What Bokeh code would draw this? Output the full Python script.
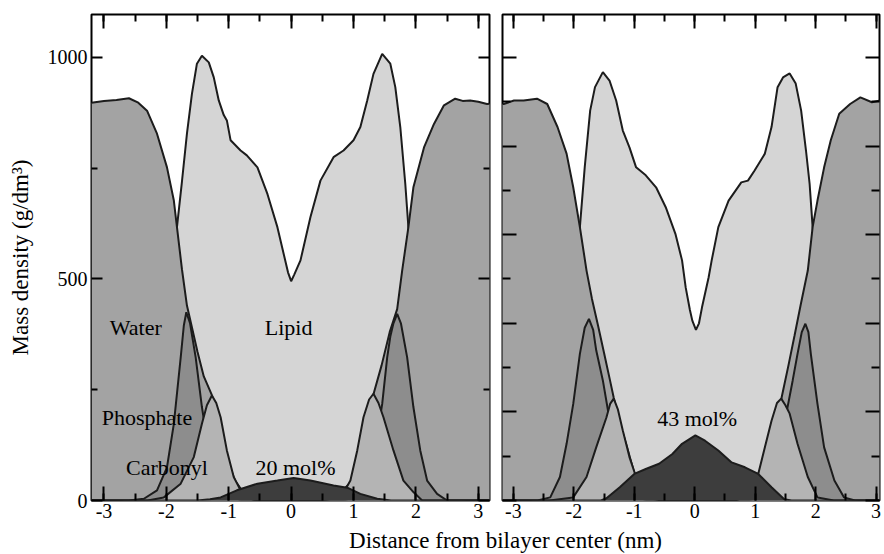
from bokeh.plotting import figure
from bokeh.models import Range1d, FixedTicker, LinearAxis, Label, CustomLabelingPolicy
from bokeh.layouts import row, column
from bokeh.embed import file_html
from bokeh.resources import INLINE

FONT = "Liberation Serif"

# ---------------- ticks ----------------
x_major = [-3, -2, -1, 0, 1, 2, 3]
x_minor = [-3, -2.5, -2, -1.5, -1, -0.5, 0, 0.5, 1, 1.5, 2, 2.5, 3]
x_tick_text = ["-3", "-2", "-1", "0", "1", "2", "3"]
y_major_a = [0, 500, 1000]
y_minor_a = [250, 750]
y_tick_text_a = ["0", "500", "1000"]
y_major_b = [0, 200, 400, 600, 800, 1000]
y_minor_b = [100, 300, 500, 700, 900]

# ---------------- 20 mol% panel ----------------
water20_x = [-3.2, -3.0, -2.8, -2.6, -2.45, -2.31, -2.15, -1.99, -1.88, -1.83, -1.75, -1.67, -1.5, -1.4, -1.27,
             -1.15, -1.03, -0.9, -0.75, -0.55, 0.55, 0.75, 0.95, 1.08, 1.2, 1.32, 1.45, 1.58, 1.70, 1.78, 1.88,
             1.96, 2.13, 2.29, 2.45, 2.63, 2.75, 2.87, 3.0, 3.14, 3.2]
water20_y = [898, 902, 904, 908, 898, 880, 828, 752, 677, 617, 522, 440, 335, 280, 238,
             160, 95, 45, 15, 0, 0, 12, 40, 100, 170, 240, 305, 380, 432, 519, 617,
             707, 797, 850, 892, 907, 902, 903, 900, 895, 896]

lipid20_x = [-3.2, -2.7, -2.4, -2.2, -2.0, -1.83, -1.75, -1.67, -1.59, -1.51, -1.43, -1.32, -1.24, -1.16, -1.08,
             -1.03, -0.97, -0.81, -0.71, -0.54, -0.38, -0.22, -0.12, -0.05, 0.0, 0.05, 0.15, 0.31, 0.47, 0.68,
             0.84, 1.0, 1.11, 1.22, 1.32, 1.46, 1.59, 1.67, 1.75, 1.83, 1.88, 1.95, 2.1, 2.3, 2.5, 2.8, 3.2]
lipid20_y = [0, 0, 30, 150, 380, 617, 720, 828, 918, 986, 1004, 989, 955, 903, 870,
             858, 813, 790, 779, 752, 692, 617, 557, 515, 495, 510, 542, 640, 722, 775,
             790, 813, 843, 903, 963, 1008, 986, 933, 843, 715, 617, 520, 300, 80, 10, 0, 0]

phos20_x = [-3.2, -2.6, -2.36, -2.15, -1.99, -1.88, -1.77, -1.72, -1.68, -1.62, -1.53, -1.43, -1.32, -1.19, -1.03,
            -0.8, 0.85, 1.0, 1.2, 1.35, 1.46, 1.54, 1.59, 1.64, 1.70, 1.76, 1.86, 1.96, 2.07, 2.18, 2.34, 2.5, 3.2]
phos20_y = [0, 0, 4, 23, 75, 173, 323, 395, 425, 400, 323, 211, 113, 53, 15,
            0, 0, 8, 45, 120, 218, 323, 370, 400, 421, 400, 323, 211, 113, 45, 15, 0, 0]

carb20_x = [-3.2, -2.3, -2.04, -1.77, -1.56, -1.43, -1.35, -1.27, -1.2, -1.13, -1.03, -0.92, -0.81, -0.6,
            0.5, 0.7, 0.85, 0.95, 1.06, 1.16, 1.25, 1.32, 1.4, 1.48, 1.64, 1.80, 1.96, 2.1, 3.2]
carb20_y = [0, 0, 7, 38, 98, 173, 215, 237, 220, 188, 113, 53, 23, 0,
            0, 5, 20, 45, 113, 188, 228, 241, 220, 188, 113, 45, 19, 0, 0]

chol20_x = [-3.2, -1.5, -1.3, -1.13, -0.87, -0.54, -0.22, 0.04, 0.31, 0.68, 0.9, 1.11, 1.38, 1.6, 3.2]
chol20_y = [0, 0, 3, 7, 23, 38, 45, 51, 45, 34, 29, 15, 4, 0, 0]

# ---------------- 43 mol% panel ----------------
water43_x = [-3.2, -3.16, -2.99, -2.83, -2.61, -2.44, -2.27, -2.12, -2.01, -1.90, -1.79, -1.70, -1.60, -1.50,
             -1.40, -1.34, -1.25, -1.13, -1.0, -0.85, -0.65, 0.7, 0.9, 1.08, 1.24, 1.33, 1.43, 1.55, 1.65, 1.75,
             1.87, 1.95, 2.03, 2.14, 2.25, 2.39, 2.57, 2.74, 2.93, 3.07]
water43_y = [895, 895, 903, 903, 907, 895, 843, 783, 707, 617, 519, 455, 395, 333,
             270, 232, 180, 125, 62, 20, 0, 0, 25, 68, 128, 175, 228, 305, 372, 440,
             519, 617, 677, 752, 813, 873, 895, 910, 899, 903]

lipid43_x = [-3.2, -2.7, -2.45, -2.25, -2.05, -1.90, -1.82, -1.73, -1.65, -1.52, -1.41, -1.30, -1.19, -1.08,
             -0.97, -0.81, -0.64, -0.48, -0.32, -0.21, -0.15, -0.08, -0.04, 0.02, 0.07, 0.12, 0.23, 0.28, 0.39,
             0.56, 0.77, 0.88, 0.99, 1.16, 1.27, 1.37, 1.46, 1.57, 1.67, 1.76, 1.84, 1.90, 1.95, 2.05, 2.25,
             2.45, 2.7, 3.1]
lipid43_y = [0, 0, 30, 160, 430, 617, 752, 880, 933, 967, 948, 903, 835, 797,
             752, 734, 707, 662, 602, 542, 481, 430, 406, 385, 400, 436, 504, 542, 617,
             677, 718, 722, 745, 783, 843, 933, 955, 964, 941, 880, 790, 715, 617, 430, 160,
             30, 0, 0]

phos43_x = [-3.2, -2.6, -2.39, -2.23, -2.12, -2.01, -1.90, -1.82, -1.75, -1.68, -1.63, -1.52, -1.40, -1.28,
            -1.15, -1.0, -0.8, 0.9, 1.1, 1.25, 1.4, 1.52, 1.62, 1.70, 1.77, 1.83, 1.88, 1.92, 2.03, 2.14,
            2.31, 2.47, 2.65, 3.1]
phos43_y = [0, 0, 7, 53, 128, 218, 331, 390, 410, 385, 339, 271, 175, 95,
            40, 12, 0, 0, 12, 45, 110, 200, 271, 331, 380, 399, 380, 331, 218, 120,
            45, 7, 0, 0]

carb43_x = [-3.2, -2.4, -2.01, -1.79, -1.63, -1.46, -1.40, -1.34, -1.27, -1.19, -1.08, -0.97, -0.81, -0.6,
            0.7, 0.9, 1.05, 1.16, 1.27, 1.36, 1.43, 1.50, 1.57, 1.70, 1.87, 2.03, 2.3, 3.1]
carb43_y = [0, 0, 7, 53, 120, 188, 218, 230, 205, 158, 98, 53, 15, 0,
            0, 18, 60, 120, 180, 220, 230, 215, 196, 128, 53, 7, 0, 0]

chol43_x = [-3.2, -1.55, -1.46, -1.24, -1.0, -0.81, -0.59, -0.37, -0.21, 0.01, 0.17, 0.39, 0.61, 0.83,
            1.05, 1.27, 1.48, 1.6, 3.1]
chol43_y = [0, 0, 5, 30, 60, 71, 83, 105, 128, 147, 135, 113, 86, 75,
            60, 30, 3, 0, 0]

# ---------------- style ----------------
C_WATER = "#a3a3a3"
C_LIPID = "#d5d5d5"
C_PHOS = "#8d8d8d"
C_CARB = "#b4b4b4"
C_CHOL = "#3d3d3d"
C_LINE = "#1c1c1c"

HIDE_ALL = "for (const i of Array.from(indices)) { indices.unset(i) }\nreturn indices"


def draw(p, xs, ys, color):
    p.varea(x=xs, y1=0, y2=ys, fill_color=color)
    p.line(xs, ys, line_color=C_LINE, line_width=2)


def tick_style(ax, maj, mnr):
    ax.major_tick_in = maj
    ax.major_tick_out = 0
    ax.minor_tick_in = mnr
    ax.minor_tick_out = 0
    ax.major_tick_line_width = 2
    ax.minor_tick_line_width = 2
    ax.major_tick_line_color = "black"
    ax.minor_tick_line_color = "black"
    ax.axis_line_color = None


def blank_labels(ax):
    ax.major_label_policy = CustomLabelingPolicy(code=HIDE_ALL)
    ax.major_label_text_font_size = "1px"
    ax.major_label_standoff = 0


def make_panel(width, bl, br, xr, ymaj, ymin, ymaj_len, ymin_len, ylabels):
    p = figure(width=width, height=526, x_range=Range1d(*xr), y_range=Range1d(0, 1097),
               output_backend="svg", toolbar_location=None,
               min_border_left=bl, min_border_right=br, min_border_top=14, min_border_bottom=26)
    p.title.visible = False
    p.grid.visible = False
    p.outline_line_color = "black"
    p.outline_line_width = 2
    p.background_fill_color = "white"
    p.border_fill_color = "white"

    xt = FixedTicker(ticks=x_major, minor_ticks=x_minor)
    yt = FixedTicker(ticks=ymaj, minor_ticks=ymin)

    xa = p.xaxis[0]
    xa.ticker = xt
    xa.major_label_overrides = dict(zip(x_major, x_tick_text))
    xa.major_label_text_font = FONT
    xa.major_label_text_font_size = "20px"
    xa.major_label_text_color = "black"
    xa.major_label_standoff = 3
    tick_style(xa, 14, 7)

    ya = p.yaxis[0]
    ya.ticker = yt
    tick_style(ya, ymaj_len, ymin_len)
    if ylabels:
        ya.major_label_overrides = dict(zip(ymaj, y_tick_text_a))
        ya.major_label_text_font = FONT
        ya.major_label_text_font_size = "20px"
        ya.major_label_text_color = "black"
        ya.major_label_standoff = 4
        ya.axis_label = "Mass density (g/dm³)"
        ya.axis_label_text_font = FONT
        ya.axis_label_text_font_size = "23px"
        ya.axis_label_text_font_style = "normal"
        ya.axis_label_text_color = "black"
        ya.axis_label_standoff = 12
    else:
        blank_labels(ya)

    top = LinearAxis(ticker=xt)
    tick_style(top, 14, 7)
    blank_labels(top)
    p.add_layout(top, "above")

    right = LinearAxis(ticker=yt)
    tick_style(right, ymaj_len, ymin_len)
    blank_labels(right)
    p.add_layout(right, "right")
    return p


def add_text(p, x, y, text, align="center"):
    p.add_layout(Label(x=x, y=y, text=text, text_align=align, text_baseline="alphabetic",
                       text_font=FONT, text_font_size="22px", text_color="black"))


# left panel: 20 mol%
p1 = make_panel(496, 91, 7, (-3.2, 3.18), y_major_a, y_minor_a, 11, 6, True)
draw(p1, lipid20_x, lipid20_y, C_LIPID)
draw(p1, water20_x, water20_y, C_WATER)
draw(p1, phos20_x, phos20_y, C_PHOS)
draw(p1, carb20_x, carb20_y, C_CARB)
draw(p1, chol20_x, chol20_y, C_CHOL)
add_text(p1, -2.49, 391, "Water")
add_text(p1, -0.04, 391, "Lipid")
add_text(p1, -2.31, 188, "Phosphate")
add_text(p1, -1.99, 74, "Carbonyl")
add_text(p1, 0.07, 75, "20 mol%")

# right panel: 43 mol%
p2 = make_panel(388, 6, 1, (-3.18, 3.056), y_major_b, y_minor_b, 14, 8, False)
draw(p2, lipid43_x, lipid43_y, C_LIPID)
draw(p2, water43_x, water43_y, C_WATER)
draw(p2, phos43_x, phos43_y, C_PHOS)
draw(p2, carb43_x, carb43_y, C_CARB)
draw(p2, chol43_x, chol43_y, C_CHOL)
add_text(p2, 0.04, 184, "43 mol%")

# shared x-axis title
p3 = figure(width=884, height=28, x_range=Range1d(0, 884), y_range=Range1d(0, 28),
            x_axis_type=None, y_axis_type=None,
            output_backend="svg", toolbar_location=None, min_border=0)
p3.title.visible = False
p3.grid.visible = False
p3.outline_line_color = None
p3.add_layout(Label(x=505, y=14, text="Distance from bilayer center (nm)", text_align="center",
                    text_baseline="alphabetic", text_font=FONT, text_font_size="23px", text_color="black"))

layout = column(row(p1, p2), p3)
open("out.html", "w").write(file_html(layout, INLINE))
